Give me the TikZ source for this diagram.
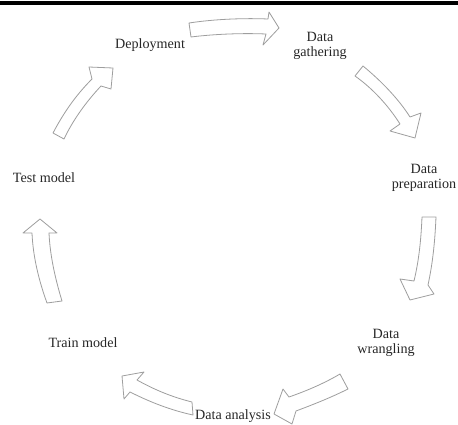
\documentclass[tikz,border=0pt]{standalone}
\usepackage{fontspec}
\setmainfont{Liberation Serif}
\usepackage{tikz}

\tikzset{
  blockarrow/.style={draw=black!38, line width=0.6pt, fill=white, line join=round},
  steplabel/.style={font=\fontsize{10.6}{11.3}\selectfont, text=black!85, align=center, inner sep=0.75pt}
}

\begin{document}
\begin{tikzpicture}[x=0.75pt,y=0.75pt,yscale=-1,xscale=1]
    \useasboundingbox (0,0) rectangle (458,425);

    %Straight Lines [id:top rule]
    \draw [line width=2.3pt] (0,3) -- (458,3) ;

    %Shape: Curved Arrow [id:deploy-gather]
    \draw [blockarrow] (189,23) .. controls (215,19) and (245,18) .. (268,19) -- (269,12) -- (279,28) -- (263,45) -- (266,34) .. controls (243,33) and (215,34) .. (191,37) -- cycle ;
    %Shape: Curved Arrow [id:gather-prep]
    \draw [blockarrow] (363,66) .. controls (380,80) and (398,98) .. (410,117) -- (421,113) -- (415,138) -- (390,131) -- (400,124) .. controls (388,105) and (372,88) .. (355,76) -- cycle ;
    %Shape: Curved Arrow [id:prep-wrangle]
    \draw [blockarrow] (422,217) -- (436,217) .. controls (435,240) and (433,262) .. (428,285) -- (434,294) -- (410,300) -- (400,279) -- (414,281) .. controls (419,260) and (421,240) .. (422,217) -- cycle ;
    %Shape: Curved Arrow [id:wrangle-analysis]
    \draw [blockarrow] (340,374) -- (348,389) .. controls (330,398) and (312,405) .. (296,411) -- (292,424) -- (274,414) -- (283,389) -- (289,397) .. controls (306,391) and (323,384) .. (340,374) -- cycle ;
    %Shape: Curved Arrow [id:analysis-train]
    \draw [blockarrow] (192,402) -- (193,415) .. controls (170,410) and (150,402) .. (130,392) -- (124,399) -- (122,376) -- (144,372) -- (137,380) .. controls (155,390) and (172,397) .. (192,402) -- cycle ;
    %Shape: Curved Arrow [id:train-test]
    \draw [blockarrow] (47,303) -- (62,301) .. controls (55,278) and (50,255) .. (49,233) -- (57,233) -- (40,219) -- (23,233) -- (32,233) .. controls (33,257) and (39,281) .. (47,303) -- cycle ;
    %Shape: Curved Arrow [id:test-deploy]
    \draw [blockarrow] (53,133) .. controls (63,114) and (75,96) .. (92,79) -- (89,67) -- (113,68) -- (111,89) -- (101,86) .. controls (86,102) and (73,120) .. (64,139) -- cycle ;

    % Text Node
    \node [steplabel] (deploy) at (150,45) {Deployment};
    % Text Node
    \node [steplabel] (gather) at (320,46) {Data\\gathering};
    % Text Node
    \node [steplabel] (prep) at (424,178) {Data\\preparation};
    % Text Node
    \node [steplabel] (wrangle) at (386,343) {Data\\wrangling};
    % Text Node
    \node [steplabel] (analysis) at (233,416) {Data analysis};
    % Text Node
    \node [steplabel] (train) at (83,343) {Train model};
    % Text Node
    \node [steplabel] (test) at (44,178) {Test model};

\end{tikzpicture}
\end{document}
